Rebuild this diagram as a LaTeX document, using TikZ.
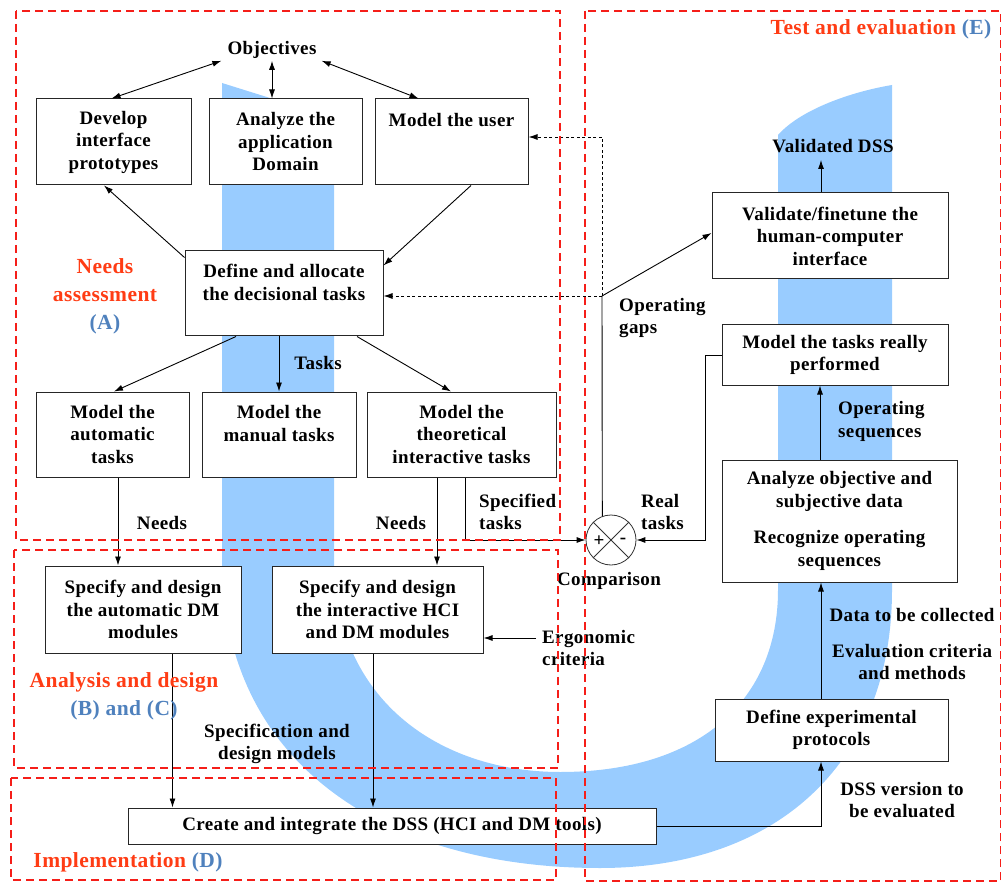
\documentclass[tikz,border=0pt]{standalone}
\usepackage{fontspec}
\setmainfont{Liberation Serif}[LetterSpace=2]
\usetikzlibrary{arrows.meta}

\definecolor{bandblue}{RGB}{153,204,255}
\definecolor{zonered}{RGB}{245,30,25}
\definecolor{labelred}{RGB}{255,60,20}
\definecolor{labelblue}{RGB}{79,129,189}

\newcommand{\normaltext}{\fontsize{19}{22.5}\selectfont\bfseries}
\newcommand{\zonetext}{\fontsize{21.5}{28}\selectfont\bfseries}

\begin{document}
\begin{tikzpicture}[x=1pt,y=-1pt,
    box/.style={draw=black!85, line width=1pt, fill=white, align=center, inner sep=0pt, font=\normaltext},
    lbl/.style={align=center, inner sep=0pt, font=\normaltext},
    zone/.style={draw=zonered, line width=1.8pt, dash pattern=on 8pt off 5pt},
    zonelbl/.style={align=center, inner sep=0pt, font=\zonetext, text=labelred},
    arr/.style={-{Latex[length=9pt,width=6pt]}, line width=0.9pt},
    dblarr/.style={{Latex[length=9pt,width=6pt]}-{Latex[length=9pt,width=6pt]}, line width=0.9pt},
    gapline/.style={arr, dash pattern=on 3pt off 2.5pt}]
    \useasboundingbox (0,0) rectangle (1001,882);

    % blue U band
    \fill[bandblue] (222,83) -- (334,118) -- (334,560)
        .. controls (334,700) and (440,772) .. (560,772)
        .. controls (700,772) and (778,700) .. (778,590) -- (778,135)
        .. controls (800,110) and (850,92) .. (892,85) -- (892,590)
        .. controls (892,760) and (780,868) .. (600,868)
        .. controls (380,868) and (222,760) .. (222,560) -- cycle;

    % needs assessment
    \node[lbl] (obj) at (272,50) {Objectives};
    \node[box, minimum width=155pt, minimum height=86pt] (dev) at (113.5,142) {Develop\\interface\\prototypes};
    \node[box, minimum width=153pt, minimum height=86pt] (dom) at (285.5,142) {Analyze the\\application\\Domain};
    \node[box, minimum width=153pt, minimum height=86pt] (user) at (451.5,142) {Model the user\\ \mbox{}\\ \mbox{}};
    \node[box, minimum width=198pt, minimum height=85pt] (define) at (284,293.5) {Define and allocate\\the decisional tasks\\ \mbox{}};
    \node[box, minimum width=153pt, minimum height=85pt] (auto) at (112.5,434.5) {Model the\\automatic\\tasks};
    \node[box, minimum width=154pt, minimum height=85pt] (manual) at (279,434.5) {Model the\\manual tasks\\ \mbox{}};
    \node[box, minimum width=189pt, minimum height=85pt] (theo) at (461.5,434.5) {Model the\\theoretical\\interactive tasks};

    \draw[dblarr] ([xshift=-6pt,yshift=-2pt]obj.south west) -- ([xshift=-2pt]dev.north);
    \draw[dblarr] ([yshift=-2pt]obj.south) -- (obj.south |- dom.north);
    \draw[dblarr] ([xshift=5pt,yshift=-2pt]obj.south east) -- ([xshift=-33pt]user.north);
    \draw[arr] ([yshift=-7pt]define.north west) -- ([xshift=-9.5pt]dev.south);
    \draw[arr] ([xshift=19.5pt]user.south) -- ([yshift=28pt]define.east);
    \draw[arr] ([xshift=-48pt]define.south) -- ([xshift=1.5pt]auto.north);
    \draw[arr] (manual.north |- define.south) -- (manual.north);
    \draw[arr] ([xshift=73pt]define.south) -- ([xshift=-10.5pt]theo.north);
    \node[lbl] (tasks) at (318,363) {Tasks};

    % analysis and design
    \node[box, minimum width=196pt, minimum height=87pt] (spauto) at (143,609.5) {Specify and design\\the automatic DM\\modules};
    \node[box, minimum width=211pt, minimum height=87pt] (spint) at (377.5,609.5) {Specify and design\\the interactive HCI\\and DM modules};
    \node[box, minimum width=528pt, minimum height=36pt] (create) at (392,826) {Create and integrate the DSS (HCI and DM tools)};

    \draw[arr] ([xshift=5.5pt]auto.south) -- ([xshift=5.5pt]auto.south |- spauto.north);
    \draw[arr] ([xshift=-24.5pt]theo.south) -- ([xshift=-24.5pt]theo.south |- spint.north);
    \node[lbl] (needsa) at (162,523) {Needs};
    \node[lbl] (needsb) at (401,523) {Needs};
    \node[lbl, align=left, anchor=west] (erg) at (542,648) {Ergonomic\\criteria};
    \draw[arr] ([yshift=10pt,xshift=-6pt]erg.west) -- ([yshift=-28.5pt]spint.east);
    \draw[arr] ([xshift=29.5pt]spauto.south) -- ([xshift=29.5pt]spauto.south |- create.north);
    \draw[arr] ([xshift=-4.5pt]spint.south) -- ([xshift=-4.5pt]spint.south |- create.north);
    \node[lbl] (specmod) at (277,744) {Specification and\\design models};

    % comparison
    \node[draw=black!80, circle, minimum size=50pt, inner sep=0pt, line width=0.8pt, fill=white] (cmp) at (611,540) {};
    \draw[black!80, line width=0.8pt] (cmp.45) -- (cmp.225);
    \draw[black!80, line width=0.8pt] (cmp.135) -- (cmp.-45);
    \node[lbl] (plus) at (599,541) {+};
    \node[lbl] (minus) at (623,541) {-};
    \node[lbl] (cmplbl) at (609,581) {Comparison};
    \node[lbl, align=left, anchor=west] (spec) at (479,512) {Specified\\tasks};
    \draw[arr] ([xshift=3.5pt]theo.south) |- (cmp.west);

    % test and evaluation
    \node[box, minimum width=236pt, minimum height=86pt] (valid) at (830,236) {Validate/finetune the\\human-computer\\interface};
    \node[lbl] (vdss) at (833,146) {Validated DSS};
    \node[box, minimum width=226pt, minimum height=60pt] (really) at (835,355) {Model the tasks really\\performed};
    \node[box, minimum width=235pt, minimum height=122pt] (analyze) at (839.5,521) {Analyze objective and\\subjective data\\[14pt]Recognize operating\\sequences};
    \node[box, minimum width=233pt, minimum height=62pt] (proto) at (831.5,730) {Define experimental\\protocols};

    \draw[arr] ([xshift=-9pt]valid.north) -- ([xshift=-12pt,yshift=-7pt]vdss.south);
    \draw[arr] ([xshift=-19.5pt]analyze.north) -- ([xshift=-19.5pt]analyze.north |- really.south);
    \node[lbl, align=left, anchor=west] (opseq) at (838,421.5) {Operating\\sequences};
    \draw[arr] ([xshift=-10.5pt]proto.north) -- ([xshift=-10.5pt]proto.north |- analyze.south);
    \node[lbl] (data) at (912,615) {Data to be collected};
    \node[lbl] (evalc) at (912,662) {Evaluation criteria\\and methods};
    \draw[arr] (create.east) -| ([xshift=-10.5pt]proto.south);
    \node[lbl] (dssv) at (902,800) {DSS version to\\be evaluated};

    \draw[arr] (really.west) -- ++(-16,0) |- (cmp.east);
    \node[lbl, align=left, anchor=west] (real) at (641,512) {Real\\tasks};

    % operating gaps
    \coordinate (gap) at (602,296);
    \draw[line width=0.9pt] (cmp.110) -- (gap);
    \draw[gapline] (gap) -- (define.east |- gap);
    \draw[gapline] (gap) |- ([yshift=5pt]user.east);
    \draw[arr] (gap) -- ([yshift=3pt]valid.west);
    \node[lbl, align=left, anchor=west] (gaps) at (619,318) {Operating\\gaps};

    % zones
    \draw[zone] (16,11) rectangle (560,540);
    \draw[zone] (585,11) rectangle (1001,881);
    \draw[zone] (14,550) rectangle (558,768);
    \draw[zone] (11,778) rectangle (556,880);
    \node[zonelbl] (za) at (105,296) {Needs\\assessment\\{\color{labelblue}(A)}};
    \node[zonelbl] (zbc) at (124,696) {Analysis and design\\{\color{labelblue}(B) and (C)}};
    \node[zonelbl] (zd) at (128,862) {Implementation {\color{labelblue}(D)}};
    \node[zonelbl] (ze) at (881,29) {Test and evaluation {\color{labelblue}(E)}};
\end{tikzpicture}
\end{document}
